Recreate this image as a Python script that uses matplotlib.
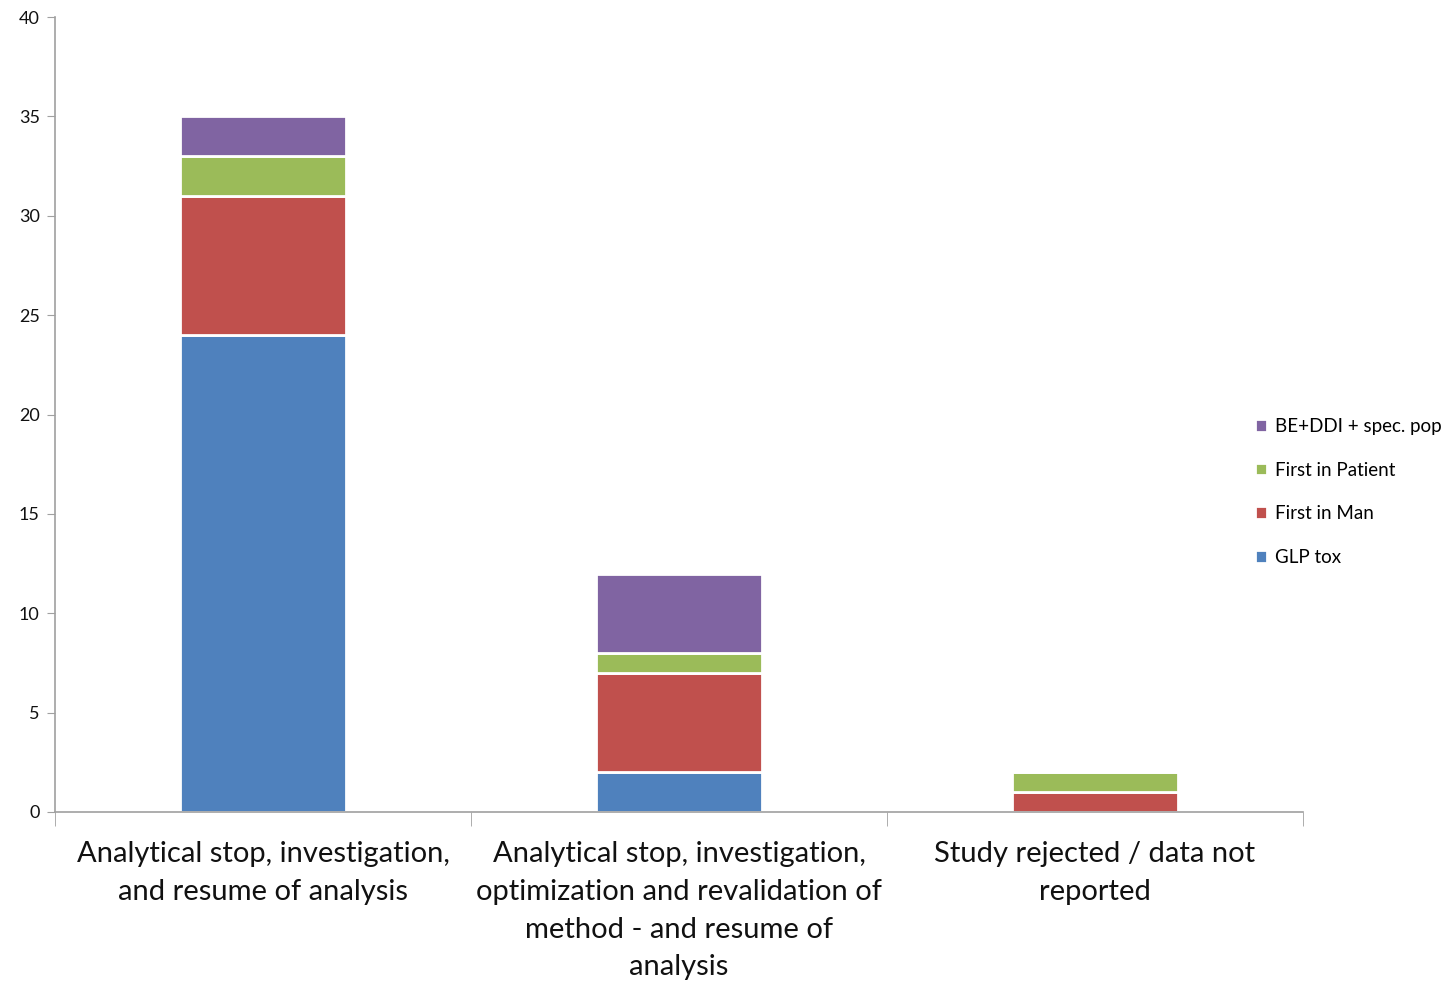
import numpy as np
import matplotlib.pyplot as plt

categories = [
    "Analytical stop, investigation,\nand resume of analysis",
    "Analytical stop, investigation,\noptimization and revalidation of\nmethod - and resume of\nanalysis",
    "Study rejected / data not\nreported",
]
series_names = ["GLP tox", "First in Man", "First in Patient", "BE+DDI + spec. pop"]
glp_tox = [24, 2, 0]
first_in_man = [7, 5, 1]
first_in_patient = [2, 1, 1]
be_ddi = [2, 4, 0]
colors = ["#4F81BD", "#C0504D", "#9BBB59", "#8064A2"]

plt.rcParams['font.family'] = ['Lato', 'DejaVu Sans']

fig = plt.figure(figsize=(14.49, 9.81), dpi=100)
ax = fig.add_axes([55 / 1449, 1 - 812 / 981, (1303 - 55) / 1449, (812 - 17) / 981])

x = np.arange(len(categories))
bottom = np.zeros(len(categories))
handles = []
for name, vals, col in zip(series_names, [glp_tox, first_in_man, first_in_patient, be_ddi], colors):
    vals = np.array(vals, dtype=float)
    b = ax.bar(x, vals, 0.4, bottom=bottom, color=col, edgecolor='white', linewidth=2, label=name)
    handles.append(b)
    bottom += vals

ax.set_xlim(-0.5, len(categories) - 0.5)
ax.set_ylim(0, 40)
ax.set_yticks(range(0, 41, 5))
ax.tick_params(axis='y', labelsize=13, length=6, color='#A0A0A0', pad=5, labelcolor='#111111')

ax.set_xticks(x)
ax.set_xticklabels(categories, fontsize=21, linespacing=1.56)
ax.set_xticks(np.arange(len(categories) + 1) - 0.5, minor=True)
ax.tick_params(axis='x', which='major', length=0, pad=21, labelcolor='#111111')
ax.tick_params(axis='x', which='minor', length=10, color='#A0A0A0')

for s in ['top', 'right']:
    ax.spines[s].set_visible(False)
for s in ['left', 'bottom']:
    ax.spines[s].set_color('#A0A0A0')
    ax.spines[s].set_linewidth(1.2)

leg = ax.legend(handles[::-1], series_names[::-1], loc='center left',
                bbox_to_anchor=(1183 / 1248, 0.4025), frameon=False, fontsize=13.5,
                handlelength=0.65, handleheight=0.65, handletextpad=0.4, labelspacing=1.42)

fig.savefig('out.png', dpi=100)
